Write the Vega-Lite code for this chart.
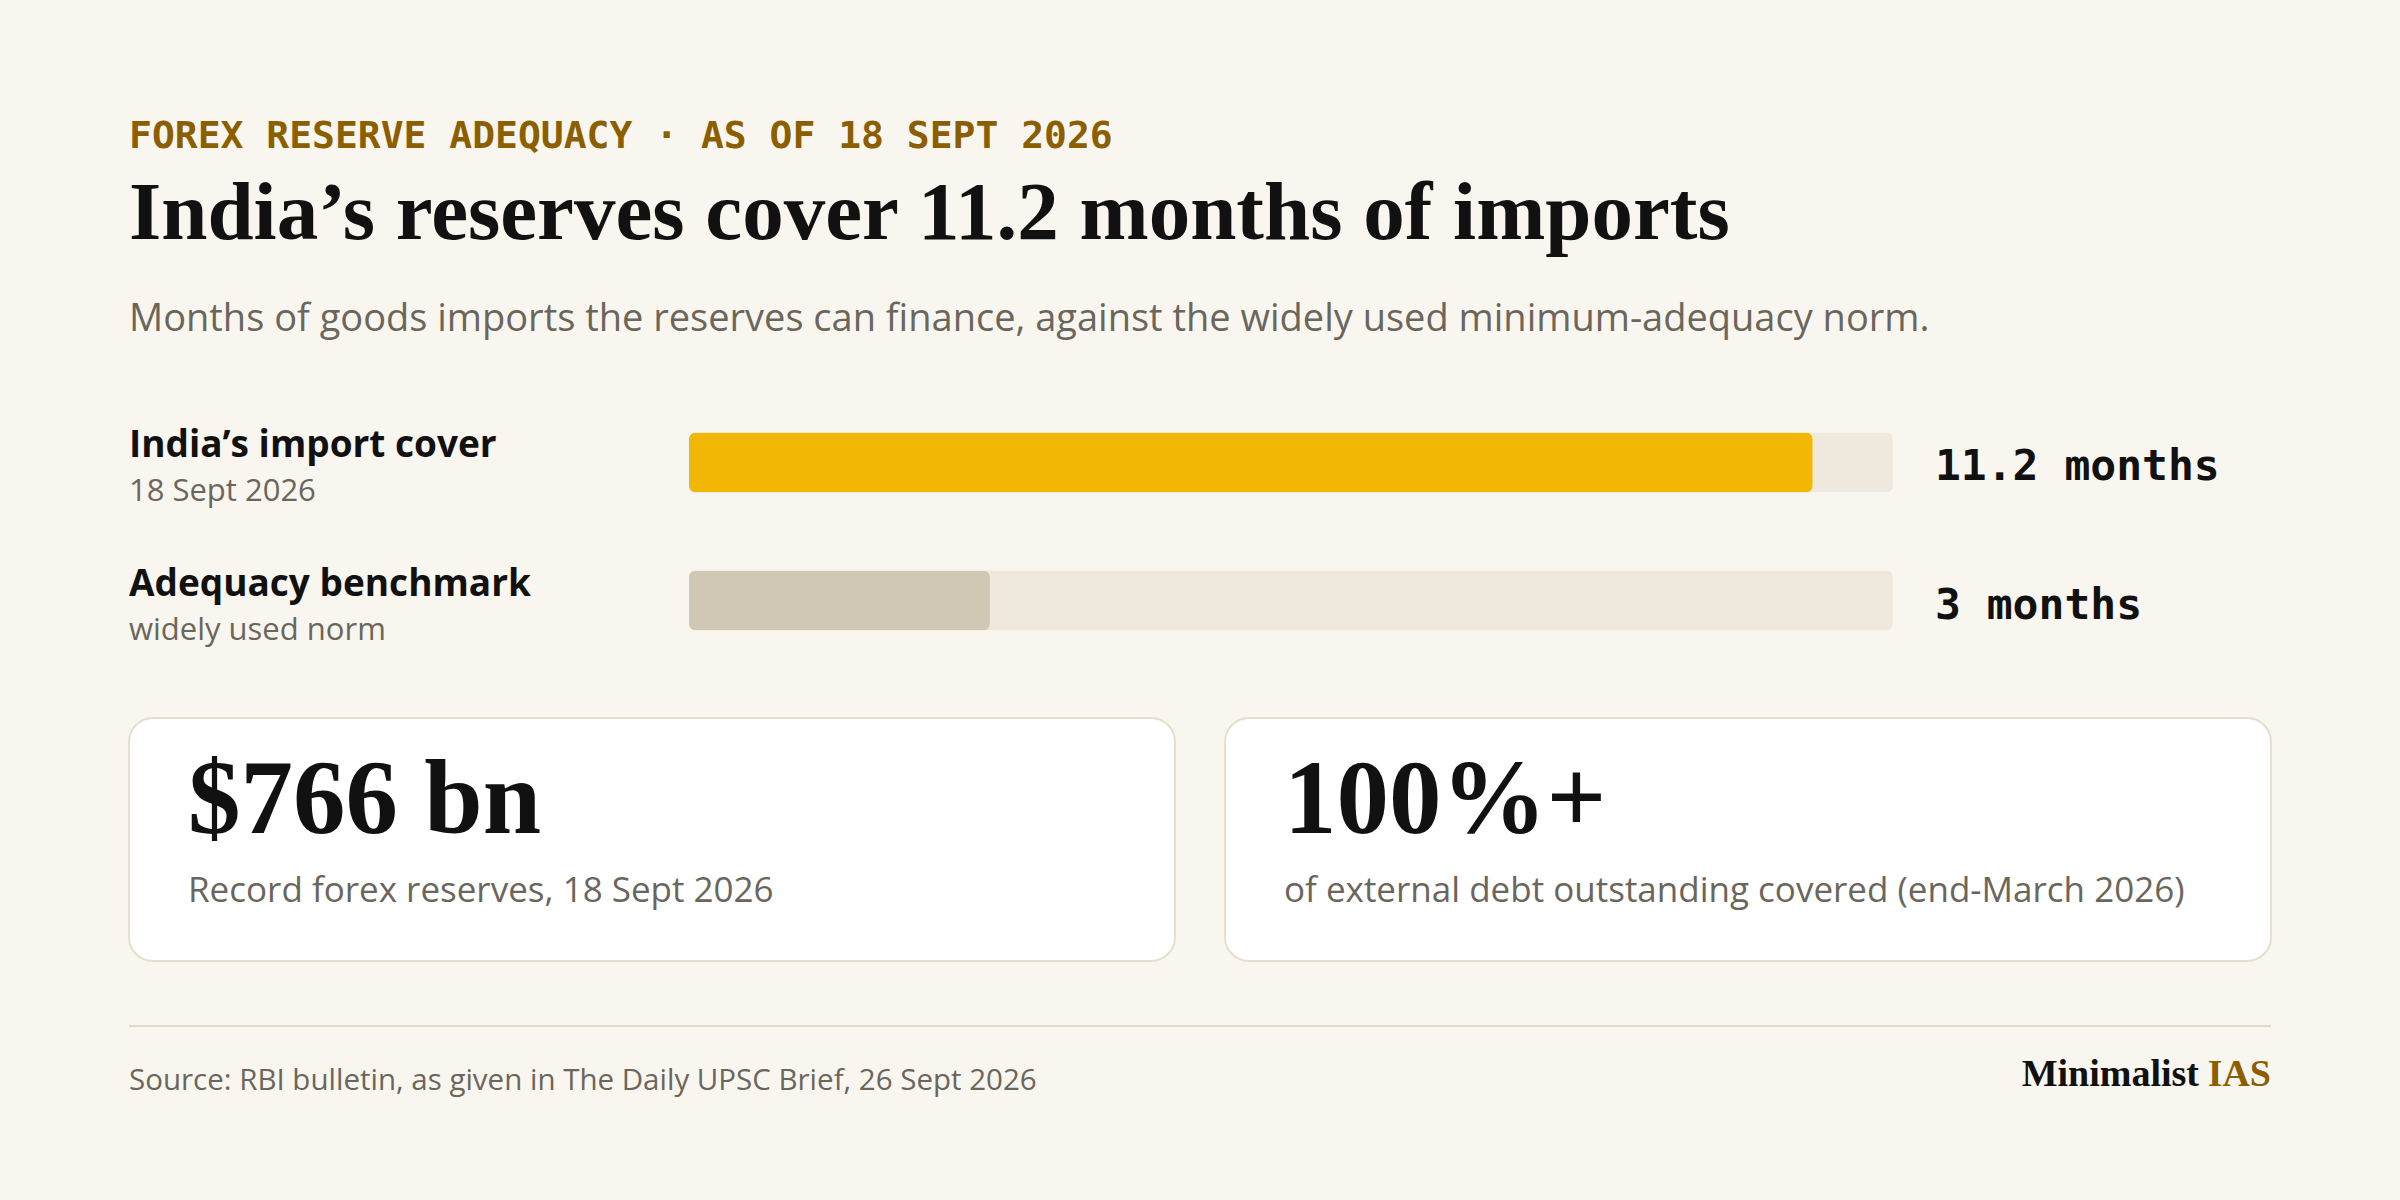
{
  "$schema": "https://vega.github.io/schema/vega-lite/v6.json",
  "description": "India's forex reserve import cover against the adequacy benchmark, with two headline figures.",
  "background": "#F9F6EF",
  "padding": {"left": 128, "top": 118, "right": 130, "bottom": 108},
  "title": {
    "text": "FOREX RESERVE ADEQUACY · AS OF 18 SEPT 2026",
    "subtitle": "India’s reserves cover 11.2 months of imports",
    "anchor": "start",
    "frame": "group",
    "font": "DejaVu Sans Mono",
    "fontSize": 38,
    "fontWeight": "bold",
    "color": "#8B5E00",
    "subtitleFont": "Liberation Serif",
    "subtitleFontSize": 83,
    "subtitleFontWeight": "bold",
    "subtitleColor": "#111111",
    "subtitlePadding": 17,
    "offset": 45
  },
  "spacing": 63,
  "vconcat": [
    {
      "width": 2142,
      "height": 245,
      "title": {
        "text": "Months of goods imports the reserves can finance, against the widely used minimum-adequacy norm.",
        "anchor": "start",
        "font": "Open Sans",
        "fontSize": 38,
        "fontWeight": "normal",
        "color": "#6B665C",
        "offset": 70
      },
      "data": {
        "values": [
          {"row": "India’s import cover", "sub": "18 Sept 2026", "months": 11.2, "label": "11.2 months", "full": 12, "kind": "india"},
          {"row": "Adequacy benchmark", "sub": "widely used norm", "months": 3, "label": "3 months", "full": 12, "kind": "norm"}
        ]
      },
      "encoding": {
        "y": {
          "field": "row",
          "type": "nominal",
          "sort": null,
          "axis": null,
          "scale": {"paddingInner": 0.225, "paddingOuter": 0}
        }
      },
      "layer": [
        {
          "mark": {"type": "bar", "height": 60, "cornerRadius": 7, "color": "#EFE8DC"},
          "encoding": {
            "x": {
              "field": "full",
              "type": "quantitative",
              "scale": {"domain": [-5.581, 15.768], "nice": false, "zero": false},
              "axis": null
            }
          }
        },
        {
          "mark": {"type": "bar", "height": 60, "cornerRadius": 7},
          "encoding": {
            "x": {"field": "months", "type": "quantitative"},
            "color": {
              "field": "kind",
              "type": "nominal",
              "scale": {"domain": ["india", "norm"], "range": ["#F2B705", "#D0C7B4"]},
              "legend": null
            }
          }
        },
        {
          "mark": {"type": "text", "align": "left", "baseline": "alphabetic", "dx": -560, "dy": -5, "font": "Open Sans", "fontSize": 37, "fontWeight": "bold", "color": "#111111"},
          "encoding": {"x": {"datum": 0}, "text": {"field": "row"}}
        },
        {
          "mark": {"type": "text", "align": "left", "baseline": "alphabetic", "dx": -560, "dy": 39, "font": "Open Sans", "fontSize": 31, "color": "#6B665C"},
          "encoding": {"x": {"datum": 0}, "text": {"field": "sub"}}
        },
        {
          "mark": {"type": "text", "align": "left", "baseline": "alphabetic", "dx": 42, "dy": 18, "font": "DejaVu Sans Mono", "fontSize": 43, "fontWeight": "bold", "color": "#111111"},
          "encoding": {"x": {"field": "full", "type": "quantitative"}, "text": {"field": "label"}}
        }
      ]
    },
    {
      "width": 2142,
      "height": 243,
      "data": {
        "values": [
          {"card": "reserves", "figure": "$766 bn", "caption": "Record forex reserves, 18 Sept 2026"},
          {"card": "debt", "figure": "100%+", "caption": "of external debt outstanding covered (end-March 2026)"}
        ]
      },
      "encoding": {
        "x": {
          "field": "card",
          "type": "nominal",
          "sort": null,
          "axis": null,
          "scale": {"paddingInner": 0.0456, "paddingOuter": 0}
        }
      },
      "layer": [
        {
          "mark": {"type": "rect", "fill": "#FFFFFF", "stroke": "#E6DFCE", "strokeWidth": 2, "cornerRadius": 24}
        },
        {
          "mark": {"type": "text", "align": "left", "baseline": "alphabetic", "dx": 59, "dy": -7, "font": "Liberation Serif", "fontSize": 105, "fontWeight": "bold", "color": "#111111"},
          "encoding": {
            "x": {"field": "card", "type": "nominal", "sort": null, "bandPosition": 0},
            "text": {"field": "figure"}
          }
        },
        {
          "mark": {"type": "text", "align": "left", "baseline": "alphabetic", "dx": 59, "dy": 62, "font": "Open Sans", "fontSize": 35, "color": "#6B665C"},
          "encoding": {
            "x": {"field": "card", "type": "nominal", "sort": null, "bandPosition": 0},
            "text": {"field": "caption"}
          }
        }
      ]
    },
    {
      "width": 2142,
      "height": 64,
      "data": {
        "values": [
          {"source": "Source: RBI bulletin, as given in The Daily UPSC Brief, 26 Sept 2026", "brand": "Minimalist", "brandTail": "IAS"}
        ]
      },
      "layer": [
        {
          "mark": {"type": "rule", "color": "#E2DBCA", "strokeWidth": 2},
          "encoding": {
            "x": {"datum": 0, "type": "quantitative", "scale": {"domain": [0, 1]}, "axis": null},
            "x2": {"datum": 1},
            "y": {"datum": 1, "type": "quantitative", "scale": {"domain": [0, 1]}, "axis": null}
          }
        },
        {
          "mark": {"type": "text", "align": "left", "baseline": "alphabetic", "font": "Open Sans", "fontSize": 29.5, "color": "#6B665C"},
          "encoding": {"x": {"datum": 0}, "y": {"datum": 0}, "text": {"field": "source"}}
        },
        {
          "mark": {"type": "text", "align": "right", "baseline": "alphabetic", "dy": -4, "font": "Liberation Serif", "fontSize": 38, "fontWeight": "bold", "color": "#8B5E00"},
          "encoding": {"x": {"datum": 1}, "y": {"datum": 0}, "text": {"field": "brandTail"}}
        },
        {
          "mark": {"type": "text", "align": "right", "baseline": "alphabetic", "dx": -72, "dy": -4, "font": "Liberation Serif", "fontSize": 38, "fontWeight": "bold", "color": "#111111"},
          "encoding": {"x": {"datum": 1}, "y": {"datum": 0}, "text": {"field": "brand"}}
        }
      ]
    }
  ],
  "config": {
    "view": {"stroke": null}
  }
}
